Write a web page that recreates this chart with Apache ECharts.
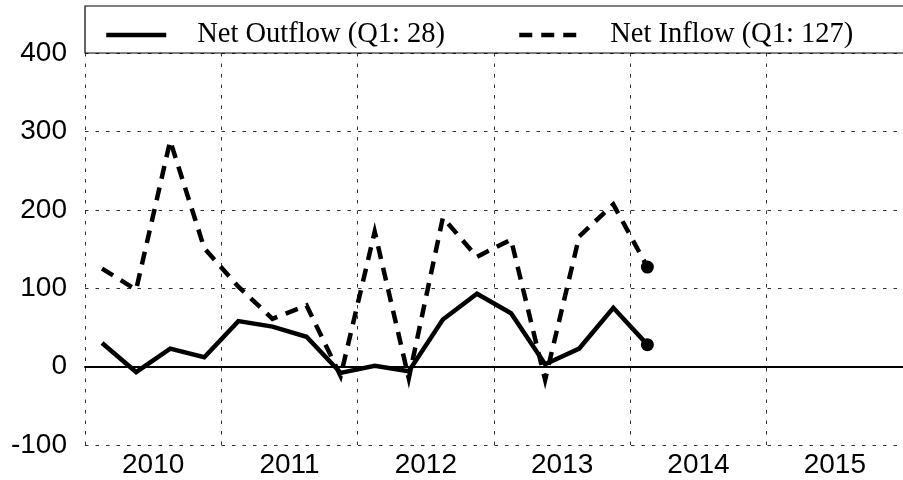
<!DOCTYPE html>
<html>
<head>
<meta charset="utf-8">
<script src="https://cdn.jsdelivr.net/npm/echarts@6/dist/echarts.min.js"></script>
<style>
html,body{margin:0;padding:0;background:#fff;}
#chart{width:903px;height:480px;}
</style>
</head>
<body>
<div id="chart"></div>
<script>
const years = ['2010', '2011', '2012', '2013', '2014', '2015'];
const quarters = years.flatMap(y => ['Q1', 'Q2', 'Q3', 'Q4'].map(q => y + ' ' + q));
const outflowName = 'Net Outflow (Q1: 28)';
const inflowName = 'Net Inflow (Q1: 127)';
const outflow = [30, -7, 23, 12, 58, 51, 38, -8, 1, -6, 60, 93, 68, 3, 23, 75, 28];
const inflow = [125, 98, 288, 151, 102, 61, 78, -12, 172, -15, 190, 140, 162, -17, 166, 207, 127];
const yTicks = [-100, 0, 100, 200, 300, 400];

function withEndDot(arr) {
  return arr.map((v, i) => i === arr.length - 1
    ? { value: v, symbol: 'circle', symbolSize: 13 }
    : v);
}

const gridLine = { show: true, lineStyle: { color: '#333', width: 1, type: [3.5, 7] } };

const chart = echarts.init(document.getElementById('chart'), null, { renderer: 'canvas' });
chart.setOption({
  animation: false,
  backgroundColor: '#fff',
  grid: { left: 85, right: -9, top: 53, bottom: 35, containLabel: false },
  graphic: [{
    type: 'rect', z: 3,
    shape: { x: 85, y: 6, width: 840, height: 47 },
    style: { fill: '#fff', stroke: '#000', lineWidth: 1.2 }
  }],
  legend: {
    z: 5,
    left: 104, top: 20, padding: 0,
    itemWidth: 60, itemHeight: 14, itemGap: 72,
    itemStyle: { opacity: 0 },
    lineStyle: { width: 4.5 },
    textStyle: { fontFamily: 'Liberation Serif', fontSize: 28.5, color: '#000', padding: [0, 0, 0, 26], lineHeight: 30 },
    data: [outflowName, inflowName]
  },
  xAxis: [{
    type: 'category',
    data: years,
    boundaryGap: true,
    axisLine: { show: true, onZero: true, lineStyle: { color: '#000', width: 2 } },
    axisTick: { show: false },
    axisLabel: { interval: 0, fontFamily: 'Liberation Sans', fontSize: 28, color: '#000', margin: 6 },
    splitLine: { show: true, interval: 0, lineStyle: { color: '#333', width: 1, type: [3.5, 7] } }
  }, {
    type: 'category',
    data: quarters,
    boundaryGap: true,
    show: false
  }],
  yAxis: {
    type: 'value',
    min: yTicks[0], max: yTicks[yTicks.length - 1], interval: 100,
    axisLine: { show: false },
    axisTick: { show: false },
    axisLabel: { fontFamily: 'Liberation Sans', fontSize: 28, color: '#000', margin: 18 },
    splitLine: gridLine
  },
  series: [{
    name: outflowName,
    type: 'line',
    xAxisIndex: 1,
    data: withEndDot(outflow),
    symbol: 'none',
    showSymbol: true,
    color: '#000',
    itemStyle: { color: '#000' },
    lineStyle: { color: '#000', width: 4.5, type: 'solid', join: 'miter', miterLimit: 10 },
    z: 6
  }, {
    name: inflowName,
    type: 'line',
    xAxisIndex: 1,
    data: withEndDot(inflow),
    symbol: 'none',
    showSymbol: true,
    color: '#000',
    itemStyle: { color: '#000' },
    lineStyle: { color: '#000', width: 4.5, type: [13, 9], join: 'miter', miterLimit: 10, cap: 'butt' },
    z: 6
  }]
});
</script>
</body>
</html>
